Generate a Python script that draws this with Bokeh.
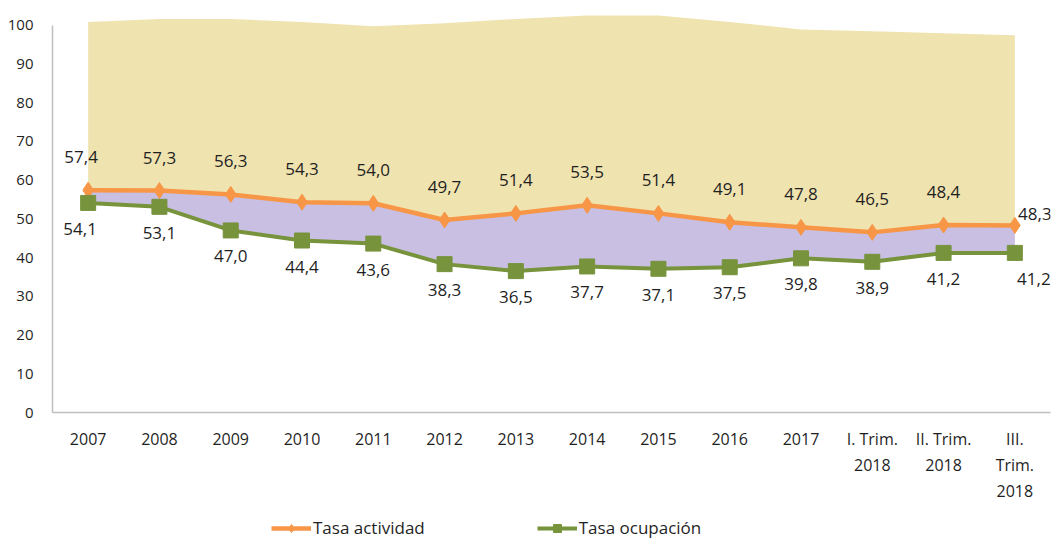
from bokeh.plotting import figure
from bokeh.layouts import column
from bokeh.models import (ColumnDataSource, FactorRange, Range1d, FixedTicker, LabelSet,
                          Legend, LegendItem)
from bokeh.core.properties import value
from bokeh.embed import file_html
from bokeh.resources import INLINE

categories = ["2007", "2008", "2009", "2010", "2011", "2012", "2013", "2014", "2015",
              "2016", "2017", "I. Trim.\n2018", "II. Trim.\n2018", "III.\nTrim.\n2018"]
tasa_actividad = [57.4, 57.3, 56.3, 54.3, 54.0, 49.7, 51.4, 53.5, 51.4, 49.1, 47.8, 46.5, 48.4, 48.3]
tasa_ocupacion = [54.1, 53.1, 47.0, 44.4, 43.6, 38.3, 36.5, 37.7, 37.1, 37.5, 39.8, 38.9, 41.2, 41.2]
banda_superior = [100.8, 101.6, 101.6, 100.8, 99.7, 100.5, 101.6, 102.5, 102.5, 100.8, 98.9, 98.4, 97.9, 97.4]
y_ticks = [0, 10, 20, 30, 40, 50, 60, 70, 80, 90, 100]
series_names = ["Tasa actividad", "Tasa ocupación"]

def fmt(v):
    return f"{v:.1f}".replace(".", ",")

n = len(categories)
x_off_act = [-7] + [0] * (n - 2) + [20]
y_off_act = [33] * (n - 1) + [11]
x_off_ocu = [-8] + [0] * (n - 2) + [19]
y_off_ocu = [-26] * n

src = ColumnDataSource(dict(
    x=categories, act=tasa_actividad, ocu=tasa_ocupacion, top=banda_superior,
    act_lbl=[fmt(v) for v in tasa_actividad], ocu_lbl=[fmt(v) for v in tasa_ocupacion],
    xa=x_off_act, ya=y_off_act, xo=x_off_ocu, yo=y_off_ocu,
))

FONT = "Open Sans"
TXT = "#1f1f1f"
ORANGE = "#F79646"
GREEN = "#77933C"

p = figure(x_range=FactorRange(*categories, range_padding=0), y_range=Range1d(0, 103),
           width=1060, height=512, output_backend="svg", toolbar_location=None,
           min_border_left=52, min_border_right=10, min_border_top=13, min_border_bottom=100)
p.x_range.factor_padding = 0
p.outline_line_color = None
p.xgrid.visible = False
p.ygrid.visible = False
p.background_fill_color = "white"
p.border_fill_color = "white"

p.varea(x="x", y1="act", y2="top", source=src, fill_color="#EFE3B0", fill_alpha=1)
p.varea(x="x", y1="ocu", y2="act", source=src, fill_color="#C8BFE3", fill_alpha=1)

p.line(x="x", y="act", source=src, line_color=ORANGE, line_width=4.5)
p.scatter(x="x", y="act", source=src, marker="diamond", size=16,
          fill_color=ORANGE, line_color=ORANGE)
p.line(x="x", y="ocu", source=src, line_color=GREEN, line_width=4)
p.scatter(x="x", y="ocu", source=src, marker="square", size=15,
          fill_color=GREEN, line_color=GREEN)

p.add_layout(LabelSet(x="x", y="act", text="act_lbl", source=src, x_offset="xa", y_offset="ya",
                      text_align="center", text_baseline="middle", text_font=value(FONT),
                      text_font_size="17px", text_color=TXT))
p.add_layout(LabelSet(x="x", y="ocu", text="ocu_lbl", source=src, x_offset="xo", y_offset="yo",
                      text_align="center", text_baseline="middle", text_font=value(FONT),
                      text_font_size="17px", text_color=TXT))

p.yaxis.ticker = FixedTicker(ticks=y_ticks)
p.yaxis.bounds = (0, 100)
for ax in (p.xaxis[0], p.yaxis[0]):
    ax.axis_line_color = "#BFBFBF"
    ax.axis_line_width = 1.5
    ax.major_tick_line_color = None
    ax.minor_tick_line_color = None
    ax.major_label_text_font = FONT
    ax.major_label_text_color = TXT
p.yaxis.major_label_text_font_size = "15px"
p.yaxis.major_label_standoff = 13
p.xaxis.major_label_text_font_size = "16px"
p.xaxis.major_label_standoff = 9

# legend strip below the chart
lf = figure(width=1060, height=30, output_backend="svg", toolbar_location=None,
            x_range=Range1d(0, 1), y_range=Range1d(0, 1),
            min_border_left=0, min_border_right=0, min_border_top=0, min_border_bottom=0)
lf.axis.visible = False
lf.grid.visible = False
lf.outline_line_color = None
proxy = ColumnDataSource(dict(x=[float("nan")], y=[float("nan")]))
l1 = lf.line(x="x", y="y", source=proxy, line_color=ORANGE, line_width=4.5)
m1 = lf.scatter(x="x", y="y", source=proxy, marker="diamond", size=16,
                fill_color=ORANGE, line_color=ORANGE)
l2 = lf.line(x="x", y="y", source=proxy, line_color=GREEN, line_width=4)
m2 = lf.scatter(x="x", y="y", source=proxy, marker="square", size=15,
                fill_color=GREEN, line_color=GREEN)
legend = Legend(items=[LegendItem(label=series_names[0], renderers=[l1, m1]),
                       LegendItem(label=series_names[1], renderers=[l2, m2])],
                orientation="horizontal", location=(219, 3), spacing=112,
                glyph_width=40, glyph_height=20, label_standoff=2, padding=0, margin=0,
                border_line_color=None, background_fill_alpha=0,
                label_text_font=FONT, label_text_font_size="17px", label_text_color=TXT)
lf.add_layout(legend)

open("out.html", "w").write(file_html(column(p, lf), INLINE))
